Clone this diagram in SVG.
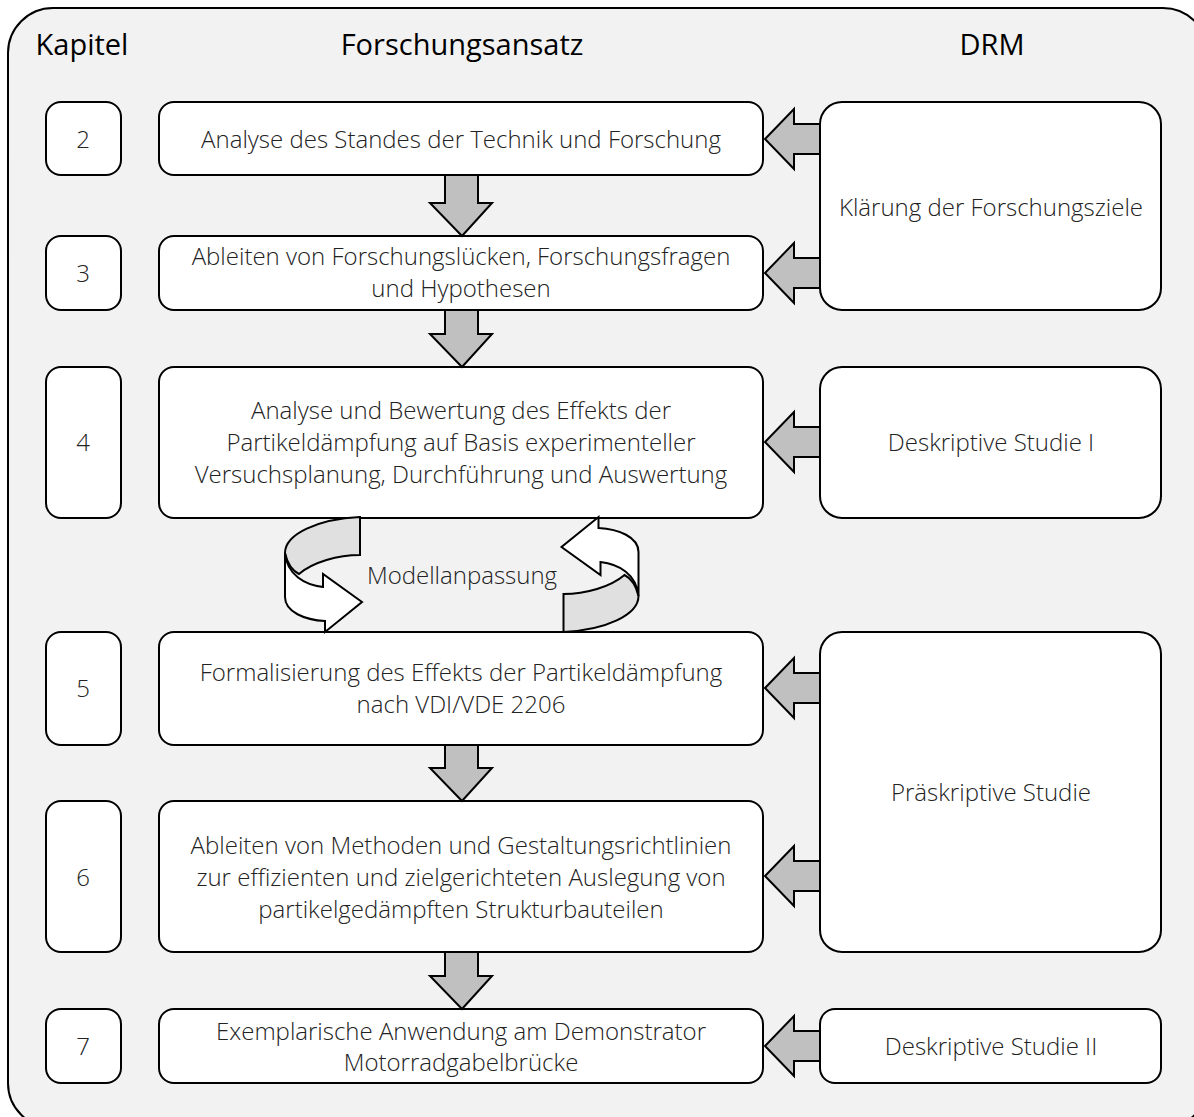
<svg xmlns="http://www.w3.org/2000/svg" width="1194" height="1117" viewBox="0 0 1194 1117">
<style>
.box{fill:#fff;stroke:#000;stroke-width:2}
.t{font-family:"Open Sans","Liberation Sans",sans-serif;font-size:24px;font-weight:300;fill:#222;text-anchor:middle}
.h{font-family:"Open Sans","Liberation Sans",sans-serif;font-size:29px;font-weight:400;fill:#000;text-anchor:middle}
.arr{fill:#c0c0c0;stroke:#000;stroke-width:2;stroke-linejoin:miter}
.rb{fill:#e0e0e0;stroke:#000;stroke-width:2}
.rw{fill:#fff;stroke:#000;stroke-width:2}
</style>
<defs>
<g id="curl">
<path class="rb" d="M36.5,-57.5 C-5.5,-55.5 -38.5,-40.5 -38.5,-21.5 C-35.5,-8.5 -28.5,-2.5 -24.5,-0.5 C-10.5,-12.5 14.5,-19.5 36.5,-19.5 Z"/>
<path class="rw" d="M-38.5,-21.5 L-38.5,22.5 C-38.5,37.5 -18.5,45.5 1.5,46.5 L1.5,57.5 L38.5,27.5 L-0.5,-0.5 L-0.5,12.5 C-18.5,10.5 -36.5,0.5 -38.5,-21.5 Z"/>
</g>
</defs>
<rect x="8" y="8" width="1200" height="1120" rx="45" fill="#f2f2f2" stroke="#000" stroke-width="2"/>
<g id="headers">
<text class="h" x="82" y="55">Kapitel</text>
<text class="h" x="462" y="55">Forschungsansatz</text>
<text class="h" x="992" y="55">DRM</text>
</g>
<g id="chapters">
<g id="k2"><rect class="box" x="46" y="102" width="75" height="73" rx="15"/><text class="t" x="83" y="148">2</text></g>
<g id="k3"><rect class="box" x="46" y="236" width="75" height="74" rx="15"/><text class="t" x="83" y="282">3</text></g>
<g id="k4"><rect class="box" x="46" y="367" width="75" height="151" rx="15"/><text class="t" x="83" y="451">4</text></g>
<g id="k5"><rect class="box" x="46" y="632" width="75" height="113" rx="15"/><text class="t" x="83" y="697">5</text></g>
<g id="k6"><rect class="box" x="46" y="801" width="75" height="151" rx="15"/><text class="t" x="83" y="886">6</text></g>
<g id="k7"><rect class="box" x="46" y="1009" width="75" height="74" rx="15"/><text class="t" x="83" y="1055">7</text></g>
</g>
<g id="steps">
<g id="s2"><rect class="box" x="159" y="102" width="604" height="73" rx="15"/><text class="t" x="461" y="148">Analyse des Standes der Technik und Forschung</text></g>
<g id="s3"><rect class="box" x="159" y="236" width="604" height="74" rx="15"/><text class="t" x="461" y="265">Ableiten von Forschungslücken, Forschungsfragen</text><text class="t" x="461" y="297">und Hypothesen</text></g>
<g id="s4"><rect class="box" x="159" y="367" width="604" height="151" rx="15"/><text class="t" x="461" y="419">Analyse und Bewertung des Effekts der</text><text class="t" x="461" y="451">Partikeldämpfung auf Basis experimenteller</text><text class="t" x="461" y="483">Versuchsplanung, Durchführung und Auswertung</text></g>
<g id="s5"><rect class="box" x="159" y="632" width="604" height="113" rx="15"/><text class="t" x="461" y="681">Formalisierung des Effekts der Partikeldämpfung</text><text class="t" x="461" y="713">nach VDI/VDE 2206</text></g>
<g id="s6"><rect class="box" x="159" y="801" width="604" height="151" rx="15"/><text class="t" x="461" y="854">Ableiten von Methoden und Gestaltungsrichtlinien</text><text class="t" x="461" y="886">zur effizienten und zielgerichteten Auslegung von</text><text class="t" x="461" y="918">partikelgedämpften Strukturbauteilen</text></g>
<g id="s7"><rect class="box" x="159" y="1009" width="604" height="74" rx="15"/><text class="t" x="461" y="1040">Exemplarische Anwendung am Demonstrator</text><text class="t" x="461" y="1071">Motorradgabelbrücke</text></g>
</g>
<g id="drm">
<g id="d1"><rect class="box" x="820" y="102" width="341" height="208" rx="22"/><text class="t" x="991" y="216">Klärung der Forschungsziele</text></g>
<g id="d2"><rect class="box" x="820" y="367" width="341" height="151" rx="22"/><text class="t" x="991" y="451">Deskriptive Studie I</text></g>
<g id="d3"><rect class="box" x="820" y="632" width="341" height="320" rx="22"/><text class="t" x="991" y="801">Präskriptive Studie</text></g>
<g id="d4"><rect class="box" x="820" y="1009" width="341" height="74" rx="15"/><text class="t" x="991" y="1055">Deskriptive Studie II</text></g>
</g>
<g id="connectors">
<path class="arr" d="M445,175 L478,175 L478,203 L492,203 L462,236 L430,203 L445,203 Z"/>
<path class="arr" d="M445,310 L478,310 L478,334 L492,334 L462,367 L430,334 L445,334 Z"/>
<path class="arr" d="M445,745 L478,745 L478,768 L492,768 L462,801 L430,768 L445,768 Z"/>
<path class="arr" d="M445,952 L478,952 L478,976 L492,976 L462,1009 L430,976 L445,976 Z"/>
<path class="arr" d="M820,124 L794,124 L794,109 L765,139 L794,169 L794,154 L820,154 Z"/>
<path class="arr" d="M820,258 L794,258 L794,243 L765,273 L794,303 L794,288 L820,288 Z"/>
<path class="arr" d="M820,427 L794,427 L794,412 L765,442 L794,472 L794,457 L820,457 Z"/>
<path class="arr" d="M820,673 L794,673 L794,658 L765,688 L794,718 L794,703 L820,703 Z"/>
<path class="arr" d="M820,861 L794,861 L794,846 L765,876 L794,906 L794,891 L820,891 Z"/>
<path class="arr" d="M820,1031 L794,1031 L794,1016 L765,1046 L794,1076 L794,1061 L820,1061 Z"/>
<use href="#curl" transform="translate(323.5,574.5)"/>
<use href="#curl" transform="translate(600,574.5) rotate(180)"/>
</g>
<text class="t" x="462" y="584">Modellanpassung</text>
</svg>
